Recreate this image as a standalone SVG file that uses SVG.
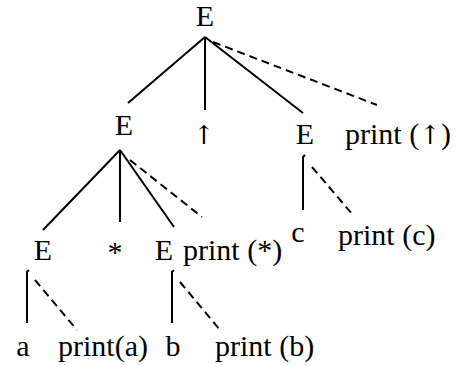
<svg xmlns="http://www.w3.org/2000/svg" width="456" height="365" viewBox="0 0 456 365">
<style>
.t{font-family:"Liberation Serif",serif;font-size:30px;fill:#000}
.m{text-anchor:middle}
.ar{font-family:"DejaVu Serif",serif;font-size:26px}
.cn{stroke:#000;stroke-width:2;fill:none}
.d{stroke-dasharray:8 5}
</style>
<rect width="456" height="365" fill="#fff"/>
<g id="connectors" class="cn">
<path d="M205 37L128 103M205 37V110M205 37L303 113M120 150L43 230M120 150V222M120 150L174 227M303 210V157L305 155M27 323V272L29 270M172 323V272L174 270"/>
<path class="d" d="M213 42L377 105M130 160L202 217M312 167L353 215M35 280L77 330M180 282L220 330"/>
</g>
<g id="E0"><text class="t m" x="205" y="26">E</text></g>
<g id="E1"><text class="t m" x="124" y="135">E</text></g>
<g id="up"><text class="t m" x="204" y="144"><tspan class="ar">↑</tspan></text></g>
<g id="E2"><text class="t m" x="305" y="144">E</text></g>
<g id="print-up"><text class="t" x="345" y="144">print (<tspan class="ar">↑</tspan>)</text></g>
<g id="E3"><text class="t m" x="43" y="260">E</text></g>
<g id="star"><text class="t m" x="115" y="262">*</text></g>
<g id="E4"><text class="t m" x="164" y="260">E</text></g>
<g id="print-star"><text class="t" x="183" y="260">print (*)</text></g>
<g id="c"><text class="t m" x="298" y="242">c</text></g>
<g id="print-c"><text class="t" x="338" y="245">print (c)</text></g>
<g id="a"><text class="t m" x="23" y="356">a</text></g>
<g id="print-a"><text class="t" x="58" y="356">print(a)</text></g>
<g id="b"><text class="t m" x="173" y="356">b</text></g>
<g id="print-b"><text class="t" x="215" y="356">print (b)</text></g>
</svg>
